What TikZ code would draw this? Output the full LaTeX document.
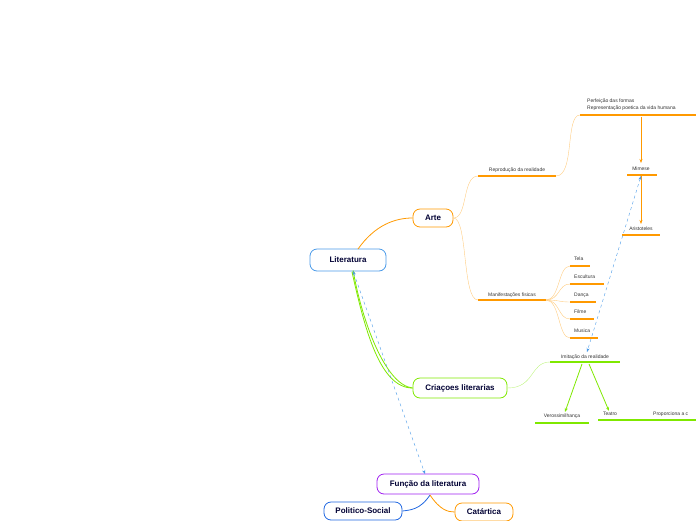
\documentclass[tikz,border=0pt]{standalone}
\usepackage{fontspec}
\setmainfont{Liberation Sans}
\usetikzlibrary{arrows.meta}
\begin{document}
\begin{tikzpicture}[x=1pt,y=-1pt,
 main/.style={draw,rounded corners=7pt,thick,font=\fontsize{8}{9}\selectfont\bfseries,text=black!80!blue,inner sep=0pt},
 sm/.style={font=\fontsize{5}{6}\selectfont,text=black!80,inner sep=0pt},
 ul/.style={line width=1.1pt},
 arr/.style={-{Stealth[length=4pt]},thick}]
\definecolor{or}{HTML}{FF9900}\definecolor{gr}{HTML}{7FE800}\definecolor{bl}{HTML}{1F66E0}\definecolor{pu}{HTML}{A020F0}\definecolor{db}{HTML}{4A9AE8}
\clip (0,0) rectangle (696,520);
\useasboundingbox (0,0) rectangle (696,520);
\node[main,draw=db,minimum width=76,minimum height=22] (lit) at (348,260) {Literatura};
\node[main,draw=or,minimum width=40,minimum height=18] (arte) at (433,218) {Arte};
\node[main,draw=gr,minimum width=94,minimum height=20] (cri) at (460,388) {Criaçoes literarias};
\node[main,draw=pu,minimum width=102,minimum height=20] (fun) at (428,484) {Função da literatura};
\node[main,draw=bl,minimum width=78,minimum height=18] (pol) at (363,511) {Politico-Social};
\node[main,draw=or,minimum width=58,minimum height=18] (cat) at (484,512) {Catártica};
\draw[or,thick] (358,249) .. controls (375,225) and (395,218) .. (arte.west);
\draw[gr,thick] (cri.west) .. controls (380,388) and (365,330) .. (352,272);
\draw[gr,arr] (cri.west) .. controls (385,385) and (362,320) .. (353,270);
\draw[db,dashed,{Stealth[length=4pt]}-{Stealth[length=4pt]}] (353,271) -- (425,474);
\draw[bl,thick] (430,495) .. controls (420,510) and (410,510) .. (pol.east);
\draw[or,thick] (430,495) .. controls (440,510) and (448,512) .. (cat.west);
% Reproducao
\coordinate (r1) at (478,176); \coordinate (r2) at (556,176);
\draw[or,ul] (r1) -- (r2); \node[sm] (rep) at (517,170) {Reprodução da realidade};
\draw[or!50] (arte.east) .. controls (468,218) and (462,176) .. (r1);
\coordinate (p1) at (580,115); \coordinate (p2) at (696,115);
\draw[or,ul] (p1) -- (p2);
\node[sm,anchor=north west,align=left] (perf) at (587,99) {Perfeição das formas\\[1pt]Representação poetica da vida humana};
\draw[or!50] (r2) .. controls (575,176) and (565,115) .. (p1);
\coordinate (m1) at (627,175); \coordinate (m2) at (657,175);
\draw[or,ul] (m1) -- (m2); \node[sm] (mim) at (641,169) {Mimese};
\draw[or,arr] (641,117) -- (641,163);
\coordinate (a1) at (622,235); \coordinate (a2) at (660,235);
\draw[or,ul] (a1) -- (a2); \node[sm] (ari) at (641,229) {Aristoteles};
\draw[or,arr] (641,176) -- (641,224);
% Manifestacoes
\coordinate (mf1) at (478,300); \coordinate (mf2) at (546,300);
\draw[or,ul] (mf1) -- (mf2); \node[sm] (man) at (512,295) {Manifestações fisicas};
\draw[or!50] (arte.east) .. controls (468,218) and (462,300) .. (mf1);
\foreach \y/\e/\t/\n in {266/590/Tela/ta,284/604/Escultura/es,302/596/Dança/da,319/594/Filme/fi,338/598/Musica/mu}{
 \draw[or,ul] (570,\y) -- (\e,\y);
 \node[sm,anchor=west] (\n) at (574,\y-7) {\t};
 \draw[or!50] (mf2) .. controls (560,300) and (558,\y) .. (570,\y);
}
\draw[db,dashed,{Stealth[length=4pt]}-{Stealth[length=4pt]}] (641,176) -- (587,352);
% Imitacao
\coordinate (i1) at (550,362); \coordinate (i2) at (620,362);
\draw[gr,ul] (i1) -- (i2); \node[sm] (imi) at (585,357) {Imitação da realidade};
\draw[gr!50] (cri.east) .. controls (535,388) and (530,362) .. (i1);
\coordinate (v1) at (535,423); \coordinate (v2) at (589,423);
\draw[gr,ul] (v1) -- (v2); \node[sm] (ver) at (562,416) {Verossimilhança};
\draw[gr,arr] (582,364) -- (565,412);
\coordinate (t1) at (598,420); \coordinate (t2) at (650,420);
\draw[gr,ul] (t1) -- (t2); \node[sm] (tea) at (610,414) {Teatro};
\draw[gr,arr] (589,364) -- (609,411);
\draw[gr,ul] (650,420) -- (696,420); \node[sm,anchor=west] (pro) at (653,414) {Proporciona a c};
\end{tikzpicture}
\end{document}
